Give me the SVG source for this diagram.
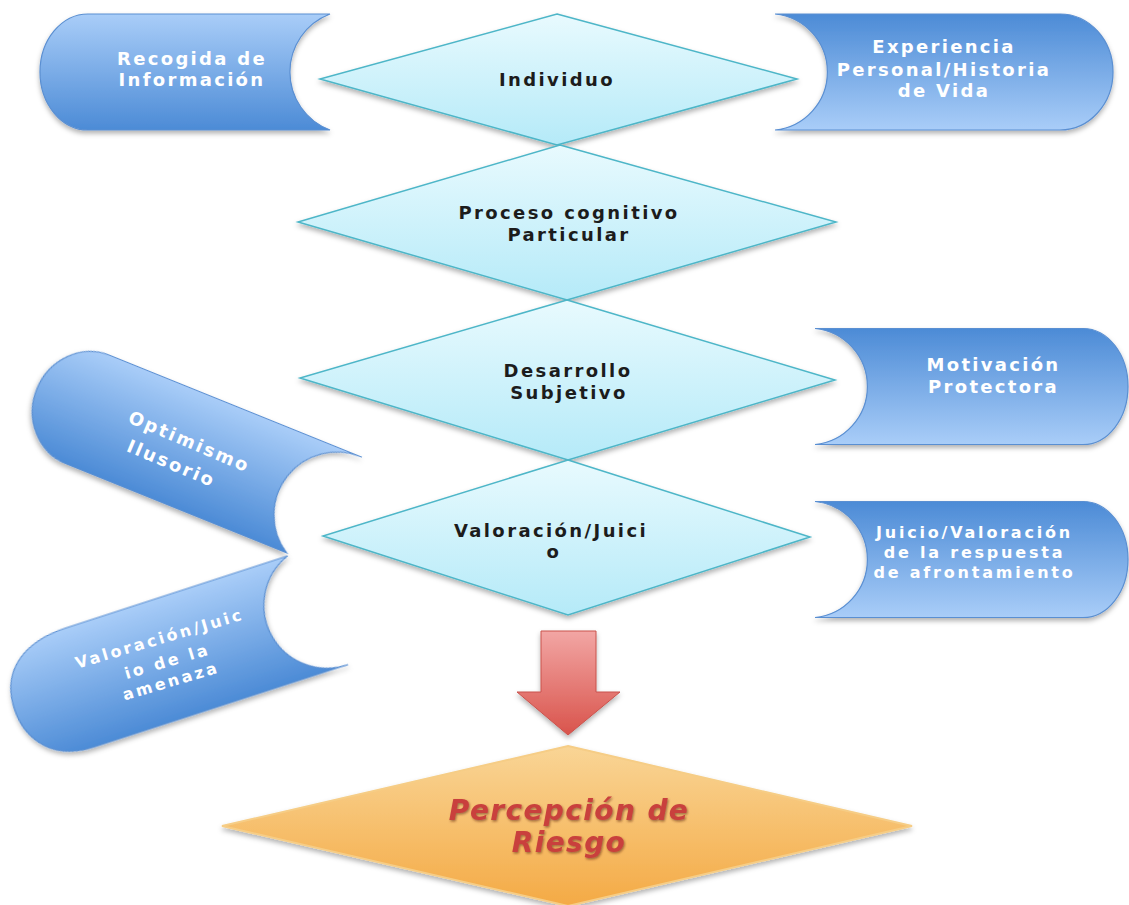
<svg xmlns="http://www.w3.org/2000/svg" width="1129" height="905" viewBox="0 0 1129 905">
<defs>
<linearGradient id="gDown" x1="0" y1="0" x2="0" y2="1">
<stop offset="0" stop-color="#a9cdf8"/><stop offset="1" stop-color="#4c8bd6"/>
</linearGradient>
<linearGradient id="gUp" x1="0" y1="0" x2="0" y2="1">
<stop offset="0" stop-color="#4c8bd6"/><stop offset="1" stop-color="#a9cdf8"/>
</linearGradient>
<linearGradient id="gCyan" x1="0" y1="0" x2="0" y2="1">
<stop offset="0" stop-color="#e8fafe"/><stop offset="1" stop-color="#b5eaf8"/>
</linearGradient>
<linearGradient id="gOrange" x1="0" y1="0" x2="0" y2="1">
<stop offset="0" stop-color="#f9d596"/><stop offset="1" stop-color="#f4aa45"/>
</linearGradient>
<linearGradient id="gRed" x1="0" y1="0" x2="0" y2="1">
<stop offset="0" stop-color="#f2a6a4"/><stop offset="1" stop-color="#d9544c"/>
</linearGradient>
<filter id="sh" x="-10%" y="-10%" width="120%" height="130%">
<feDropShadow dx="0" dy="3" stdDeviation="2.5" flood-color="#000" flood-opacity="0.3"/>
</filter>
<filter id="tsh" x="-10%" y="-30%" width="120%" height="160%">
<feDropShadow dx="1" dy="1.5" stdDeviation="1" flood-color="#5a1a10" flood-opacity="0.55"/>
</filter>
</defs>
<style>
.blue{stroke:#5a8fd2;stroke-width:1.2;filter:url(#sh)}
.dia{fill:url(#gCyan);stroke:#4db6c8;stroke-width:1.5;filter:url(#sh)}
.wt{font-family:"DejaVu Sans","Liberation Sans",sans-serif;font-weight:bold;font-size:18px;fill:#fff;letter-spacing:2.3px;text-anchor:middle}
.st{font-size:16px;letter-spacing:2.8px}
.dt{font-family:"DejaVu Sans","Liberation Sans",sans-serif;font-weight:bold;font-size:18px;fill:#1c1c1c;letter-spacing:2.4px;text-anchor:middle}
.rt{font-family:"DejaVu Sans","Liberation Sans",sans-serif;font-weight:bold;font-style:italic;font-size:28px;fill:#c9403c;letter-spacing:1.4px;text-anchor:middle;filter:url(#tsh)}
</style>
<rect width="1129" height="905" fill="#fff"/>

<g id="recogida" transform="translate(185,72)">
<path class="blue" fill="url(#gDown)" d="M-97,-58 L145,-58 A62,62 0 0 0 145,58 L-97,58 A48,58 0 0 1 -97,-58 Z"/>
<text class="wt" x="7" y="-7">Recogida de</text>
<text class="wt" x="7" y="14">Información</text>
</g>

<g id="experiencia" transform="translate(944,72)">
<path class="blue" fill="url(#gUp)" d="M-169,-58 L116,-58 A53,58 0 0 1 116,58 L-169,58 A58.3,58.3 0 0 0 -169,-58 Z"/>
<text class="wt" x="0" y="-19">Experiencia</text>
<text class="wt" x="0" y="4">Personal/Historia</text>
<text class="wt" x="0" y="25">de Vida</text>
</g>

<g id="motivacion" transform="translate(971.5,386.5)">
<path class="blue" fill="url(#gUp)" d="M-156.5,-58 L111.5,-58 A45,58 0 0 1 111.5,58 L-156.5,58 A58.3,58.3 0 0 0 -156.5,-58 Z"/>
<text class="wt" x="22" y="-16">Motivación</text>
<text class="wt" x="22" y="6">Protectora</text>
</g>

<g id="juicio-respuesta" transform="translate(971.5,559.5)">
<path class="blue" fill="url(#gUp)" d="M-156.5,-58 L111.5,-58 A45,58 0 0 1 111.5,58 L-156.5,58 A58.3,58.3 0 0 0 -156.5,-58 Z"/>
<text class="wt st" x="3" y="-22">Juicio/Valoración</text>
<text class="wt st" x="3" y="-2">de la respuesta</text>
<text class="wt st" x="3" y="18">de afrontamiento</text>
</g>

<g id="optimismo" transform="translate(188,450) rotate(22)">
<path class="blue" fill="url(#gDown)" d="M-108,-58.5 L164,-58.5 A63,63 0 0 0 130,58.5 L-108,58.5 A55,58.5 0 0 1 -108,-58.5 Z"/>
<text class="wt" x="-2" y="-2" transform="rotate(1)">Optimismo</text>
<text class="wt" x="-10" y="25" transform="rotate(1)">Ilusorio</text>
</g>

<g id="amenaza" transform="translate(180,655) rotate(-18)">
<path class="blue" fill="url(#gDown)" d="M-100,-61 L133,-61 A63,63 0 0 0 157,61 L-110,61 C-160,61 -176,25 -174,-5 C-172,-40 -145,-61 -100,-61 Z"/>
<text class="wt st" x="-15" y="-16" transform="rotate(1.5)">Valoración/Juic</text>
<text class="wt st" x="-14" y="8" transform="rotate(1.5)">io de la</text>
<text class="wt st" x="-16" y="28" transform="rotate(1.5)">amenaza</text>
</g>

<g id="individuo">
<polygon class="dia" points="557,14 797,79 557,145 320,79"/>
<text class="dt" x="557" y="86">Individuo</text>
</g>

<g id="proceso">
<polygon class="dia" points="560,145 836,222 567,300 298,222"/>
<text class="dt" x="569" y="219">Proceso cognitivo</text>
<text class="dt" x="569" y="241">Particular</text>
</g>

<g id="desarrollo">
<polygon class="dia" points="567,300 835,380 568,460 300,378"/>
<text class="dt" x="568" y="377">Desarrollo</text>
<text class="dt" x="569" y="399">Subjetivo</text>
</g>

<g id="valoracion">
<polygon class="dia" points="568,460 810,537 568,615 323,536"/>
<text class="dt" x="551" y="537">Valoración/Juici</text>
<text class="dt" x="554" y="558">o</text>
</g>

<g id="connectors">
<polygon points="541,631 596,631 596,692 620,692 568,735 517,692 541,692" fill="url(#gRed)" stroke="#c9524c" stroke-width="1" filter="url(#sh)"/>
</g>

<g id="percepcion">
<polygon points="568,746 912,826 568,906 222,826" fill="url(#gOrange)" stroke="#f6cd86" stroke-width="2" filter="url(#sh)"/>
<text class="rt" x="569" y="820">Percepción de</text>
<text class="rt" x="569" y="852">Riesgo</text>
</g>
</svg>
